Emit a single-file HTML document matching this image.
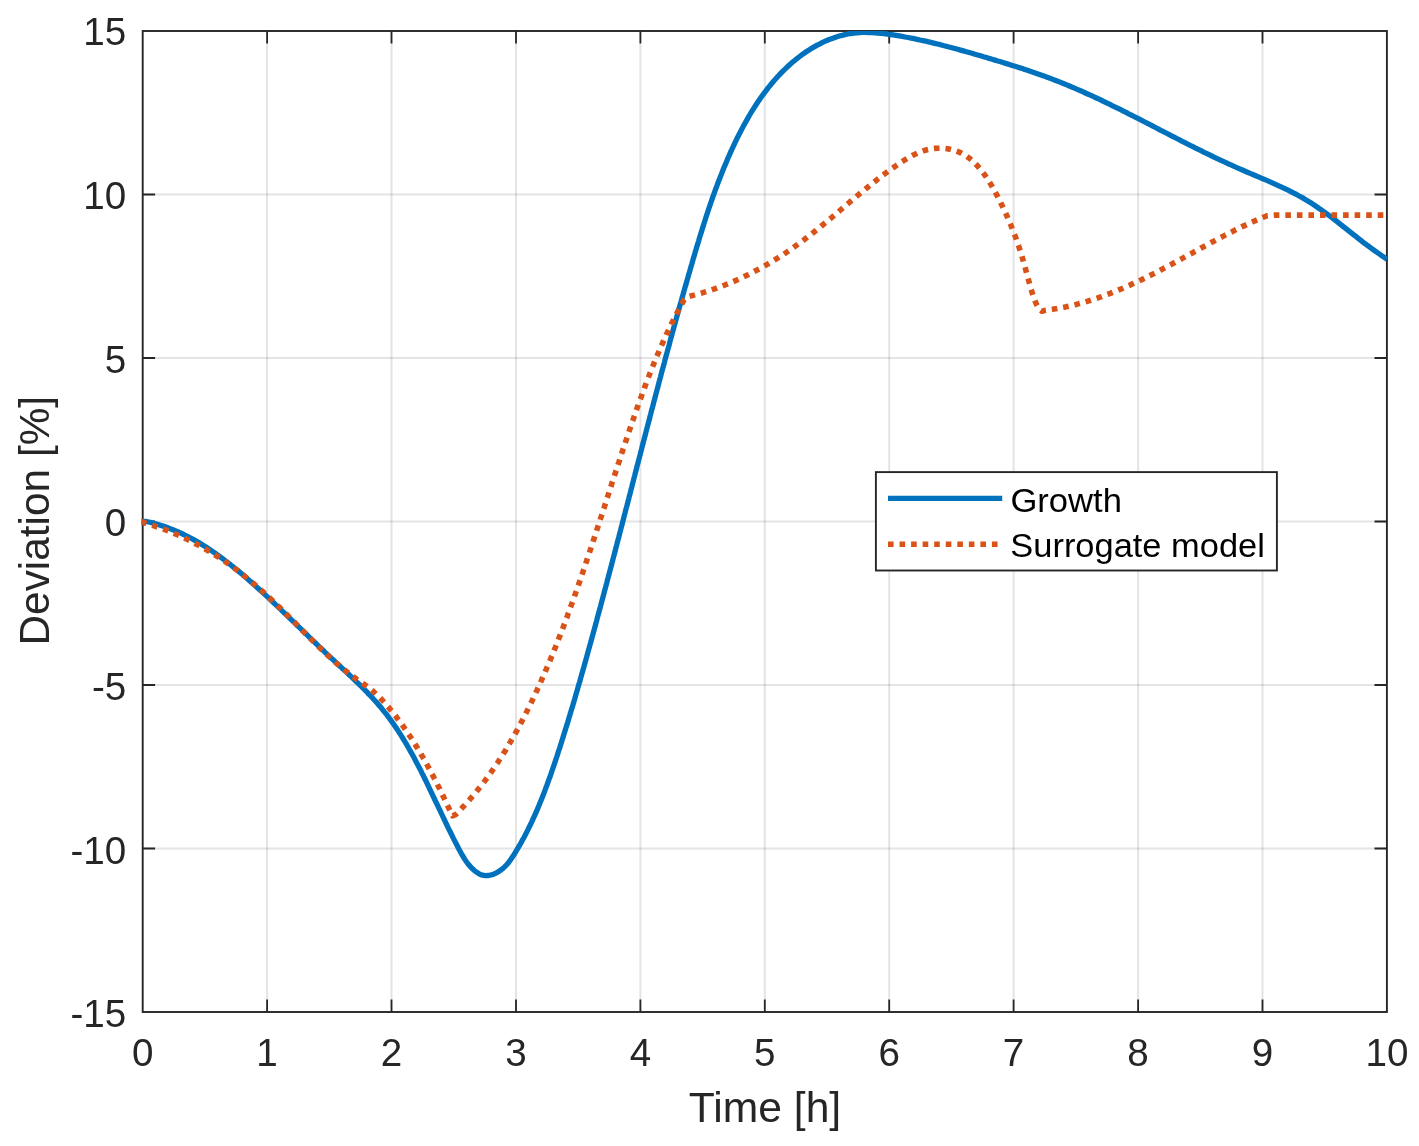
<!DOCTYPE html>
<html lang="en">
<head>
<meta charset="utf-8">
<title>Deviation vs Time</title>
<style>
html,body{margin:0;padding:0;background:#ffffff;}
body{width:1419px;height:1146px;overflow:hidden;}
svg{display:block;}
</style>
</head>
<body>
<svg width="1419" height="1146" viewBox="0 0 1419 1146">
<rect x="0" y="0" width="1419" height="1146" fill="#ffffff"/>
<g stroke="#262626" stroke-opacity="0.125" stroke-width="2" fill="none">
<path d="M267.1,31.0 V1012.0"/>
<path d="M391.5,31.0 V1012.0"/>
<path d="M516.0,31.0 V1012.0"/>
<path d="M640.4,31.0 V1012.0"/>
<path d="M764.8,31.0 V1012.0"/>
<path d="M889.2,31.0 V1012.0"/>
<path d="M1013.6,31.0 V1012.0"/>
<path d="M1138.1,31.0 V1012.0"/>
<path d="M1262.5,31.0 V1012.0"/>
<path d="M142.7,848.5 H1386.9"/>
<path d="M142.7,685.0 H1386.9"/>
<path d="M142.7,521.5 H1386.9"/>
<path d="M142.7,358.0 H1386.9"/>
<path d="M142.7,194.5 H1386.9"/>
</g>
<path d="M267.1,1012.0 v-12.4 M267.1,31.0 v12.4 M391.5,1012.0 v-12.4 M391.5,31.0 v12.4 M516.0,1012.0 v-12.4 M516.0,31.0 v12.4 M640.4,1012.0 v-12.4 M640.4,31.0 v12.4 M764.8,1012.0 v-12.4 M764.8,31.0 v12.4 M889.2,1012.0 v-12.4 M889.2,31.0 v12.4 M1013.6,1012.0 v-12.4 M1013.6,31.0 v12.4 M1138.1,1012.0 v-12.4 M1138.1,31.0 v12.4 M1262.5,1012.0 v-12.4 M1262.5,31.0 v12.4 M142.7,848.5 h12.4 M1386.9,848.5 h-12.4 M142.7,685.0 h12.4 M1386.9,685.0 h-12.4 M142.7,521.5 h12.4 M1386.9,521.5 h-12.4 M142.7,358.0 h12.4 M1386.9,358.0 h-12.4 M142.7,194.5 h12.4 M1386.9,194.5 h-12.4" stroke="#262626" stroke-width="1.8" fill="none"/>
<rect x="142.7" y="31.0" width="1244.2" height="981.0" fill="none" stroke="#262626" stroke-width="1.9"/>
<clipPath id="c"><rect x="139.7" y="31.0" width="1248.2" height="981.0"/></clipPath>
<g clip-path="url(#c)" fill="none" stroke-linejoin="round">
<path d="M142.7,521.4 L145.7,521.4 L148.7,522.0 L151.6,522.7 L154.6,523.5 L157.5,524.3 L160.3,525.2 L163.2,526.1 L166.0,527.1 L168.8,528.1 L171.6,529.2 L174.4,530.3 L177.1,531.5 L179.9,532.7 L182.6,534.0 L185.3,535.3 L187.9,536.6 L190.6,538.0 L193.2,539.4 L195.8,540.9 L198.4,542.4 L201.0,543.9 L203.5,545.5 L206.0,547.1 L208.6,548.8 L211.1,550.4 L213.5,552.1 L216.0,553.8 L218.5,555.6 L220.9,557.4 L223.3,559.2 L225.7,561.0 L228.1,562.9 L230.5,564.7 L232.8,566.6 L235.2,568.5 L237.5,570.4 L239.9,572.4 L242.2,574.3 L244.5,576.3 L246.8,578.3 L249.0,580.3 L251.3,582.3 L253.5,584.3 L255.8,586.3 L258.0,588.3 L260.2,590.3 L262.5,592.3 L264.7,594.4 L266.9,596.4 L269.1,598.4 L271.2,600.5 L273.4,602.5 L275.6,604.6 L277.8,606.6 L279.9,608.7 L282.1,610.8 L284.2,612.8 L286.4,614.9 L288.5,617.0 L290.7,619.1 L292.8,621.1 L295.0,623.2 L297.1,625.3 L299.3,627.4 L301.4,629.4 L303.5,631.5 L305.7,633.6 L307.8,635.7 L310.0,637.8 L312.1,639.8 L314.3,641.9 L316.5,644.0 L318.6,646.1 L320.8,648.1 L323.0,650.2 L325.1,652.3 L327.3,654.4 L329.5,656.4 L331.7,658.5 L333.9,660.5 L336.1,662.6 L338.4,664.7 L340.6,666.7 L342.8,668.8 L345.0,670.9 L347.2,672.9 L349.4,675.0 L351.7,677.1 L353.8,679.2 L356.0,681.3 L358.2,683.4 L360.4,685.5 L362.5,687.6 L364.6,689.7 L366.8,691.9 L368.8,694.1 L370.9,696.2 L373.0,698.5 L375.0,700.7 L377.0,702.9 L378.9,705.2 L380.9,707.4 L382.8,709.8 L384.6,712.1 L386.5,714.4 L388.3,716.8 L390.0,719.2 L391.8,721.6 L393.5,724.0 L395.2,726.5 L396.9,728.9 L398.5,731.4 L400.1,733.9 L401.7,736.4 L403.3,739.0 L404.8,741.5 L406.4,744.1 L407.9,746.7 L409.3,749.3 L410.8,751.9 L412.3,754.5 L413.7,757.1 L415.1,759.8 L416.5,762.4 L417.9,765.1 L419.3,767.7 L420.7,770.4 L422.0,773.1 L423.4,775.8 L424.7,778.5 L426.0,781.2 L427.3,783.9 L428.6,786.6 L429.9,789.4 L431.2,792.1 L432.5,794.8 L433.8,797.5 L435.1,800.3 L436.4,803.0 L437.7,805.7 L439.0,808.5 L440.3,811.2 L441.6,814.0 L442.9,816.7 L444.2,819.4 L445.5,822.2 L446.8,824.9 L448.1,827.6 L449.4,830.3 L450.8,833.0 L452.1,835.7 L453.4,838.4 L454.8,841.1 L456.2,843.8 L457.6,846.5 L459.0,849.2 L460.4,851.8 L461.8,854.4 L463.4,857.0 L465.0,859.6 L466.6,862.0 L468.4,864.4 L470.4,866.6 L472.5,868.8 L474.7,870.8 L477.2,872.6 L479.8,874.2 L482.5,875.2 L485.4,875.7 L488.4,875.5 L491.3,874.9 L494.2,873.9 L496.9,872.6 L499.5,871.0 L502.0,869.2 L504.3,867.1 L506.4,865.0 L508.4,862.7 L510.2,860.3 L511.9,857.8 L513.6,855.3 L515.1,852.8 L516.7,850.2 L518.2,847.7 L519.7,845.1 L521.2,842.5 L522.6,839.8 L524.1,837.2 L525.5,834.6 L526.8,831.9 L528.2,829.2 L529.5,826.5 L530.8,823.8 L532.1,821.1 L533.3,818.4 L534.6,815.7 L535.8,812.9 L537.0,810.2 L538.2,807.4 L539.3,804.6 L540.5,801.8 L541.6,799.1 L542.7,796.3 L543.8,793.5 L544.9,790.6 L545.9,787.8 L547.0,785.0 L548.0,782.2 L549.0,779.3 L550.1,776.5 L551.1,773.6 L552.0,770.8 L553.0,767.9 L554.0,765.1 L555.0,762.2 L555.9,759.4 L556.9,756.5 L557.8,753.6 L558.7,750.8 L559.7,747.9 L560.6,745.0 L561.5,742.1 L562.4,739.3 L563.3,736.4 L564.2,733.5 L565.1,730.6 L566.0,727.8 L566.9,724.9 L567.8,722.0 L568.6,719.1 L569.5,716.3 L570.4,713.4 L571.2,710.5 L572.1,707.6 L573.0,704.7 L573.8,701.9 L574.7,699.0 L575.5,696.1 L576.3,693.2 L577.2,690.3 L578.0,687.4 L578.8,684.6 L579.7,681.7 L580.5,678.8 L581.3,675.9 L582.1,673.0 L583.0,670.1 L583.8,667.2 L584.6,664.3 L585.4,661.5 L586.2,658.6 L587.0,655.7 L587.8,652.8 L588.6,649.9 L589.4,647.0 L590.2,644.1 L591.0,641.2 L591.8,638.3 L592.6,635.4 L593.4,632.5 L594.2,629.6 L595.0,626.7 L595.8,623.8 L596.6,620.9 L597.3,618.0 L598.1,615.1 L598.9,612.2 L599.7,609.3 L600.5,606.4 L601.2,603.5 L602.0,600.6 L602.8,597.7 L603.6,594.8 L604.3,591.9 L605.1,589.0 L605.9,586.1 L606.7,583.2 L607.4,580.3 L608.2,577.4 L609.0,574.5 L609.7,571.6 L610.5,568.7 L611.3,565.8 L612.0,562.9 L612.8,560.0 L613.5,557.1 L614.3,554.2 L615.1,551.3 L615.8,548.3 L616.6,545.4 L617.3,542.5 L618.1,539.6 L618.9,536.7 L619.6,533.8 L620.4,530.9 L621.1,528.0 L621.9,525.1 L622.6,522.2 L623.4,519.3 L624.1,516.3 L624.9,513.4 L625.6,510.5 L626.4,507.6 L627.2,504.7 L627.9,501.8 L628.7,498.9 L629.4,496.0 L630.2,493.1 L630.9,490.1 L631.7,487.2 L632.4,484.3 L633.2,481.4 L633.9,478.5 L634.7,475.6 L635.4,472.7 L636.2,469.8 L636.9,466.8 L637.7,463.9 L638.5,461.0 L639.2,458.1 L640.0,455.2 L640.7,452.3 L641.5,449.4 L642.2,446.5 L643.0,443.5 L643.7,440.6 L644.5,437.7 L645.3,434.8 L646.0,431.9 L646.8,429.0 L647.5,426.1 L648.3,423.2 L649.1,420.3 L649.8,417.3 L650.6,414.4 L651.3,411.5 L652.1,408.6 L652.9,405.7 L653.6,402.8 L654.4,399.9 L655.2,397.0 L655.9,394.1 L656.7,391.1 L657.5,388.2 L658.3,385.3 L659.0,382.4 L659.8,379.5 L660.6,376.6 L661.3,373.7 L662.1,370.8 L662.9,367.9 L663.7,365.0 L664.5,362.1 L665.2,359.2 L666.0,356.3 L666.8,353.4 L667.6,350.5 L668.4,347.6 L669.2,344.7 L669.9,341.8 L670.7,338.9 L671.5,336.0 L672.3,333.1 L673.1,330.2 L673.9,327.3 L674.7,324.4 L675.5,321.5 L676.3,318.6 L677.1,315.7 L677.9,312.8 L678.7,309.9 L679.5,307.0 L680.3,304.1 L681.2,301.2 L682.0,298.3 L682.8,295.4 L683.6,292.5 L684.4,289.6 L685.2,286.8 L686.1,283.9 L686.9,281.0 L687.7,278.1 L688.5,275.2 L689.4,272.3 L690.2,269.5 L691.0,266.6 L691.9,263.7 L692.7,260.8 L693.5,257.9 L694.4,255.1 L695.2,252.2 L696.1,249.3 L696.9,246.4 L697.8,243.6 L698.7,240.7 L699.5,237.8 L700.4,235.0 L701.3,232.1 L702.2,229.2 L703.1,226.4 L704.0,223.5 L704.9,220.7 L705.8,217.8 L706.7,215.0 L707.7,212.1 L708.6,209.3 L709.6,206.4 L710.5,203.6 L711.5,200.8 L712.5,197.9 L713.5,195.1 L714.5,192.3 L715.5,189.5 L716.6,186.7 L717.6,183.8 L718.7,181.0 L719.8,178.2 L720.9,175.4 L722.0,172.6 L723.1,169.8 L724.2,167.0 L725.4,164.3 L726.6,161.5 L727.7,158.7 L729.0,155.9 L730.2,153.2 L731.4,150.4 L732.7,147.7 L734.0,144.9 L735.3,142.2 L736.6,139.4 L737.9,136.7 L739.3,134.0 L740.7,131.3 L742.1,128.6 L743.5,125.9 L745.0,123.2 L746.5,120.6 L748.0,117.9 L749.5,115.3 L751.0,112.7 L752.6,110.1 L754.2,107.6 L755.9,105.0 L757.5,102.5 L759.2,100.0 L760.9,97.5 L762.7,95.1 L764.5,92.7 L766.3,90.3 L768.1,87.9 L770.0,85.6 L771.9,83.3 L773.8,81.0 L775.8,78.8 L777.8,76.5 L779.8,74.4 L781.9,72.2 L784.0,70.1 L786.1,68.1 L788.3,66.0 L790.5,64.0 L792.7,62.1 L795.0,60.2 L797.3,58.3 L799.7,56.5 L802.1,54.7 L804.5,53.0 L807.0,51.3 L809.5,49.7 L812.0,48.1 L814.6,46.6 L817.2,45.1 L819.9,43.8 L822.6,42.4 L825.3,41.2 L828.0,40.0 L830.8,38.9 L833.6,37.9 L836.4,36.9 L839.2,36.0 L842.1,35.3 L845.0,34.6 L847.9,34.0 L850.8,33.5 L853.8,33.1 L856.8,32.8 L859.8,32.6 L862.8,32.4 L865.8,32.4 L868.8,32.5 L871.8,32.6 L874.9,32.8 L877.9,33.0 L881.0,33.3 L884.0,33.6 L887.1,34.0 L890.1,34.5 L893.1,34.9 L896.1,35.4 L899.2,35.9 L902.2,36.4 L905.1,37.0 L908.1,37.5 L911.1,38.1 L914.1,38.7 L917.0,39.3 L920.0,40.0 L922.9,40.6 L925.8,41.2 L928.7,41.9 L931.7,42.6 L934.6,43.3 L937.5,44.0 L940.4,44.7 L943.3,45.5 L946.1,46.2 L949.0,47.0 L951.9,47.7 L954.8,48.5 L957.7,49.3 L960.5,50.1 L963.4,50.9 L966.3,51.7 L969.1,52.5 L972.0,53.3 L974.9,54.2 L977.7,55.0 L980.6,55.8 L983.5,56.7 L986.4,57.5 L989.2,58.4 L992.1,59.2 L995.0,60.1 L997.9,61.0 L1000.7,61.8 L1003.6,62.7 L1006.5,63.6 L1009.4,64.5 L1012.2,65.4 L1015.1,66.3 L1018.0,67.2 L1020.9,68.1 L1023.7,69.1 L1026.6,70.0 L1029.5,71.0 L1032.3,71.9 L1035.2,72.9 L1038.0,73.9 L1040.9,74.9 L1043.7,75.9 L1046.5,77.0 L1049.4,78.0 L1052.2,79.1 L1055.0,80.2 L1057.8,81.3 L1060.6,82.4 L1063.4,83.5 L1066.1,84.6 L1068.9,85.8 L1071.7,87.0 L1074.5,88.1 L1077.2,89.3 L1080.0,90.5 L1082.7,91.7 L1085.4,93.0 L1088.2,94.2 L1090.9,95.4 L1093.6,96.7 L1096.4,98.0 L1099.1,99.2 L1101.8,100.5 L1104.5,101.8 L1107.2,103.1 L1109.9,104.4 L1112.6,105.8 L1115.3,107.1 L1118.0,108.4 L1120.7,109.7 L1123.4,111.1 L1126.1,112.4 L1128.7,113.8 L1131.4,115.1 L1134.1,116.5 L1136.8,117.9 L1139.4,119.2 L1142.1,120.6 L1144.8,122.0 L1147.5,123.4 L1150.1,124.7 L1152.8,126.1 L1155.5,127.5 L1158.1,128.9 L1160.8,130.3 L1163.5,131.6 L1166.1,133.0 L1168.8,134.4 L1171.5,135.8 L1174.2,137.2 L1176.8,138.5 L1179.5,139.9 L1182.2,141.3 L1184.9,142.6 L1187.5,144.0 L1190.2,145.4 L1192.9,146.7 L1195.6,148.1 L1198.3,149.4 L1201.0,150.7 L1203.7,152.1 L1206.4,153.4 L1209.1,154.7 L1211.8,156.0 L1214.5,157.3 L1217.2,158.6 L1219.9,159.9 L1222.7,161.2 L1225.4,162.4 L1228.1,163.7 L1230.9,164.9 L1233.6,166.2 L1236.3,167.4 L1239.1,168.6 L1241.9,169.8 L1244.6,171.0 L1247.4,172.2 L1250.2,173.4 L1252.9,174.5 L1255.7,175.7 L1258.5,176.9 L1261.2,178.1 L1264.0,179.3 L1266.8,180.4 L1269.5,181.6 L1272.3,182.9 L1275.0,184.1 L1277.7,185.3 L1280.5,186.6 L1283.2,187.8 L1285.9,189.1 L1288.6,190.4 L1291.3,191.8 L1293.9,193.2 L1296.6,194.5 L1299.2,196.0 L1301.8,197.4 L1304.4,198.9 L1307.0,200.5 L1309.5,202.0 L1312.0,203.6 L1314.5,205.3 L1317.0,207.0 L1319.5,208.7 L1322.0,210.4 L1324.4,212.1 L1326.8,213.9 L1329.3,215.7 L1331.7,217.5 L1334.1,219.4 L1336.5,221.2 L1338.9,223.1 L1341.2,224.9 L1343.6,226.8 L1346.0,228.7 L1348.4,230.6 L1350.7,232.4 L1353.1,234.3 L1355.5,236.2 L1357.9,238.1 L1360.2,239.9 L1362.6,241.8 L1365.0,243.6 L1367.4,245.4 L1369.8,247.2 L1372.2,249.0 L1374.7,250.7 L1377.1,252.4 L1379.6,254.1 L1382.0,255.8 L1384.5,257.5 L1386.9,259.3" stroke="#0072bd" stroke-width="5.3"/>
<path d="M141.2,521.8 L142.7,521.9 L145.4,523.1 L148.3,523.9 L151.2,524.9 L154.1,525.8 L156.9,526.8 L159.8,527.8 L162.6,528.8 L165.4,529.9 L168.3,531.0 L171.1,532.1 L173.8,533.3 L176.6,534.5 L179.4,535.7 L182.1,537.0 L184.8,538.3 L187.5,539.6 L190.3,540.9 L192.9,542.3 L195.6,543.7 L198.3,545.1 L200.9,546.5 L203.5,548.0 L206.1,549.5 L208.7,551.1 L211.3,552.6 L213.9,554.2 L216.4,555.8 L219.0,557.4 L221.5,559.1 L224.0,560.8 L226.5,562.5 L228.9,564.2 L231.4,566.0 L233.8,567.8 L236.2,569.6 L238.6,571.4 L241.0,573.3 L243.4,575.2 L245.8,577.1 L248.1,579.0 L250.4,580.9 L252.7,582.8 L255.0,584.8 L257.3,586.8 L259.6,588.8 L261.9,590.8 L264.1,592.8 L266.3,594.9 L268.6,596.9 L270.8,599.0 L273.0,601.1 L275.2,603.2 L277.3,605.3 L279.5,607.4 L281.7,609.5 L283.8,611.6 L285.9,613.8 L288.1,615.9 L290.2,618.0 L292.3,620.2 L294.5,622.3 L296.6,624.5 L298.7,626.6 L300.8,628.8 L302.9,630.9 L305.0,633.1 L307.2,635.2 L309.3,637.4 L311.4,639.5 L313.5,641.6 L315.7,643.8 L317.8,645.9 L320.0,648.0 L322.2,650.1 L324.4,652.1 L326.6,654.2 L328.8,656.3 L331.0,658.3 L333.2,660.3 L335.5,662.3 L337.8,664.3 L340.1,666.3 L342.4,668.2 L344.7,670.1 L347.1,672.0 L349.4,673.9 L351.8,675.7 L354.3,677.4 L356.7,679.2 L359.2,680.9 L361.7,682.6 L364.1,684.4 L366.5,686.1 L368.9,687.9 L371.3,689.8 L373.6,691.7 L375.8,693.7 L378.0,695.8 L380.1,697.9 L382.2,700.1 L384.2,702.3 L386.2,704.5 L388.2,706.8 L390.1,709.2 L392.0,711.5 L393.9,713.9 L395.8,716.3 L397.6,718.7 L399.4,721.1 L401.2,723.6 L403.0,726.0 L404.7,728.5 L406.4,731.0 L408.1,733.5 L409.8,736.0 L411.5,738.5 L413.1,741.1 L414.7,743.6 L416.3,746.2 L417.9,748.8 L419.4,751.4 L420.9,754.0 L422.5,756.6 L424.0,759.2 L425.4,761.8 L426.9,764.5 L428.4,767.1 L429.8,769.8 L431.2,772.4 L432.6,775.1 L434.0,777.8 L435.4,780.4 L436.8,783.1 L438.1,785.8 L439.5,788.5 L440.8,791.3 L442.1,794.0 L443.4,796.7 L444.7,799.4 L446.0,802.1 L447.3,804.9 L448.6,807.6 L449.9,810.4 L451.1,813.1 L452.5,815.8 L455.5,814.7 L457.7,812.6 L459.8,810.4 L461.9,808.2 L464.0,805.9 L466.0,803.7 L468.0,801.4 L470.0,799.2 L472.0,796.9 L474.0,794.6 L475.9,792.2 L477.8,789.9 L479.7,787.5 L481.5,785.2 L483.4,782.8 L485.2,780.4 L487.0,778.0 L488.7,775.5 L490.5,773.1 L492.2,770.6 L493.9,768.1 L495.6,765.7 L497.3,763.2 L498.9,760.6 L500.6,758.1 L502.2,755.6 L503.8,753.0 L505.4,750.5 L506.9,747.9 L508.5,745.3 L510.0,742.7 L511.5,740.1 L513.0,737.5 L514.5,734.9 L515.9,732.3 L517.4,729.6 L518.8,727.0 L520.2,724.3 L521.6,721.7 L523.0,719.0 L524.4,716.3 L525.8,713.6 L527.1,710.9 L528.4,708.2 L529.8,705.5 L531.1,702.8 L532.4,700.1 L533.7,697.3 L535.0,694.6 L536.2,691.9 L537.5,689.1 L538.7,686.4 L540.0,683.6 L541.2,680.9 L542.4,678.1 L543.6,675.4 L544.8,672.6 L546.0,669.8 L547.2,667.0 L548.4,664.3 L549.6,661.5 L550.7,658.7 L551.9,655.9 L553.0,653.1 L554.1,650.3 L555.3,647.5 L556.4,644.7 L557.5,641.9 L558.6,639.1 L559.7,636.2 L560.8,633.4 L561.9,630.6 L563.0,627.8 L564.0,625.0 L565.1,622.1 L566.1,619.3 L567.2,616.5 L568.2,613.6 L569.3,610.8 L570.3,607.9 L571.3,605.1 L572.4,602.2 L573.4,599.4 L574.4,596.6 L575.4,593.7 L576.4,590.8 L577.4,588.0 L578.4,585.1 L579.4,582.3 L580.4,579.4 L581.3,576.6 L582.3,573.7 L583.3,570.8 L584.3,568.0 L585.2,565.1 L586.2,562.2 L587.1,559.4 L588.1,556.5 L589.1,553.6 L590.0,550.8 L591.0,547.9 L591.9,545.0 L592.9,542.2 L593.8,539.3 L594.7,536.4 L595.7,533.6 L596.6,530.7 L597.5,527.8 L598.5,524.9 L599.4,522.1 L600.3,519.2 L601.3,516.3 L602.2,513.5 L603.1,510.6 L604.1,507.7 L605.0,504.8 L605.9,502.0 L606.8,499.1 L607.8,496.2 L608.7,493.4 L609.6,490.5 L610.6,487.6 L611.5,484.7 L612.4,481.9 L613.4,479.0 L614.3,476.1 L615.2,473.3 L616.2,470.4 L617.1,467.5 L618.0,464.7 L619.0,461.8 L619.9,458.9 L620.8,456.1 L621.8,453.2 L622.7,450.3 L623.7,447.5 L624.6,444.6 L625.6,441.8 L626.6,438.9 L627.5,436.0 L628.5,433.2 L629.4,430.3 L630.4,427.5 L631.4,424.6 L632.4,421.8 L633.4,418.9 L634.3,416.1 L635.3,413.2 L636.3,410.4 L637.3,407.5 L638.3,404.7 L639.3,401.8 L640.4,399.0 L641.4,396.2 L642.4,393.3 L643.5,390.5 L644.5,387.7 L645.6,384.8 L646.6,382.0 L647.7,379.2 L648.8,376.4 L649.9,373.6 L651.0,370.8 L652.1,368.0 L653.2,365.2 L654.3,362.4 L655.5,359.6 L656.6,356.8 L657.8,354.0 L659.0,351.3 L660.2,348.5 L661.4,345.7 L662.6,343.0 L663.8,340.2 L665.1,337.5 L666.3,334.7 L667.6,332.0 L668.9,329.3 L670.2,326.6 L671.5,323.8 L672.9,321.1 L674.2,318.4 L675.6,315.7 L677.0,313.1 L678.4,310.4 L679.8,307.7 L681.2,305.0 L682.7,302.4 L684.2,299.7 L686.3,297.5 L689.1,296.4 L692.1,295.6 L695.0,294.9 L697.9,294.1 L700.8,293.3 L703.7,292.4 L706.6,291.5 L709.5,290.6 L712.3,289.6 L715.2,288.7 L718.0,287.6 L720.9,286.6 L723.7,285.5 L726.5,284.4 L729.3,283.3 L732.1,282.1 L734.9,280.9 L737.6,279.7 L740.4,278.4 L743.1,277.1 L745.8,275.8 L748.6,274.5 L751.3,273.1 L753.9,271.7 L756.6,270.3 L759.3,268.9 L761.9,267.4 L764.6,265.9 L767.2,264.4 L769.8,262.9 L772.4,261.3 L775.0,259.7 L777.6,258.1 L780.1,256.5 L782.7,254.9 L785.2,253.2 L787.7,251.5 L790.2,249.8 L792.7,248.1 L795.1,246.3 L797.6,244.5 L800.0,242.8 L802.5,241.0 L804.9,239.1 L807.3,237.3 L809.7,235.5 L812.0,233.6 L814.4,231.7 L816.7,229.8 L819.1,227.9 L821.4,226.0 L823.7,224.1 L826.1,222.2 L828.4,220.2 L830.7,218.3 L833.0,216.4 L835.3,214.4 L837.6,212.5 L839.9,210.5 L842.2,208.5 L844.5,206.6 L846.8,204.6 L849.1,202.7 L851.4,200.7 L853.7,198.8 L856.0,196.8 L858.3,194.9 L860.7,192.9 L863.0,191.0 L865.3,189.1 L867.7,187.2 L870.0,185.3 L872.4,183.4 L874.8,181.5 L877.2,179.6 L879.6,177.8 L882.0,175.9 L884.4,174.1 L886.8,172.3 L889.3,170.5 L891.8,168.7 L894.2,167.0 L896.8,165.2 L899.3,163.5 L901.8,161.8 L904.4,160.2 L907.0,158.6 L909.6,157.1 L912.3,155.6 L915.0,154.3 L917.7,153.0 L920.5,151.9 L923.3,150.9 L926.1,150.0 L929.0,149.3 L932.0,148.8 L935.0,148.4 L938.0,148.3 L941.0,148.2 L944.0,148.4 L947.0,148.7 L950.0,149.3 L952.9,150.0 L955.8,150.8 L958.6,151.9 L961.3,153.1 L964.0,154.6 L966.5,156.1 L969.0,157.9 L971.3,159.8 L973.6,161.8 L975.7,164.0 L977.8,166.2 L979.8,168.6 L981.8,171.0 L983.6,173.4 L985.4,175.9 L987.1,178.5 L988.8,181.0 L990.4,183.6 L991.9,186.2 L993.4,188.8 L994.9,191.4 L996.3,194.1 L997.7,196.7 L999.0,199.4 L1000.4,202.1 L1001.7,204.8 L1003.0,207.5 L1004.3,210.2 L1005.6,213.0 L1006.8,215.7 L1008.0,218.5 L1009.2,221.3 L1010.4,224.0 L1011.5,226.8 L1012.6,229.6 L1013.7,232.5 L1014.8,235.3 L1015.9,238.1 L1016.9,241.0 L1017.9,243.8 L1018.9,246.7 L1019.8,249.6 L1020.7,252.5 L1021.7,255.4 L1022.5,258.3 L1023.4,261.2 L1024.2,264.2 L1025.0,267.1 L1025.8,270.0 L1026.6,273.0 L1027.4,275.9 L1028.2,278.8 L1029.0,281.7 L1029.8,284.6 L1030.6,287.5 L1031.5,290.4 L1032.3,293.3 L1033.3,296.1 L1034.3,298.9 L1035.3,301.6 L1036.5,304.3 L1037.9,306.9 L1039.4,309.3 L1041.9,311.2 L1044.7,310.5 L1047.8,310.1 L1050.9,309.6 L1054.0,309.1 L1057.1,308.6 L1060.1,308.0 L1063.2,307.4 L1066.2,306.8 L1069.2,306.1 L1072.2,305.4 L1075.2,304.7 L1078.2,303.9 L1081.1,303.1 L1084.1,302.2 L1087.0,301.4 L1089.9,300.5 L1092.9,299.5 L1095.8,298.6 L1098.7,297.6 L1101.6,296.6 L1104.4,295.5 L1107.3,294.5 L1110.2,293.4 L1113.0,292.2 L1115.8,291.1 L1118.7,289.9 L1121.5,288.8 L1124.3,287.5 L1127.1,286.3 L1129.9,285.1 L1132.7,283.8 L1135.5,282.5 L1138.3,281.2 L1141.0,279.9 L1143.8,278.6 L1146.6,277.2 L1149.3,275.8 L1152.0,274.5 L1154.8,273.1 L1157.5,271.7 L1160.3,270.2 L1163.0,268.8 L1165.7,267.4 L1168.4,265.9 L1171.1,264.5 L1173.8,263.0 L1176.5,261.5 L1179.2,260.1 L1181.9,258.6 L1184.6,257.1 L1187.3,255.6 L1190.0,254.1 L1192.7,252.7 L1195.4,251.2 L1198.1,249.7 L1200.8,248.2 L1203.5,246.7 L1206.2,245.3 L1208.9,243.8 L1211.6,242.3 L1214.3,240.9 L1217.0,239.4 L1219.7,238.0 L1222.5,236.6 L1225.2,235.1 L1227.9,233.7 L1230.6,232.4 L1233.4,231.0 L1236.1,229.6 L1238.9,228.3 L1241.6,226.9 L1244.4,225.6 L1247.2,224.3 L1249.9,223.1 L1252.7,221.8 L1255.5,220.6 L1258.3,219.4 L1261.1,218.2 L1263.9,217.0 L1266.8,215.9 L1270.0,215.6 L1275.0,215.1 L1386.9,215.1" stroke="#d95319" stroke-width="5.6" stroke-dasharray="5.6 5.95"/>
</g>
<g font-family="'Liberation Sans', Arial, Helvetica, sans-serif" fill="#262626">
<g font-size="38.6" text-anchor="middle">
<text x="142.7" y="1066.2">0</text>
<text x="267.1" y="1066.2">1</text>
<text x="391.5" y="1066.2">2</text>
<text x="516.0" y="1066.2">3</text>
<text x="640.4" y="1066.2">4</text>
<text x="764.8" y="1066.2">5</text>
<text x="889.2" y="1066.2">6</text>
<text x="1013.6" y="1066.2">7</text>
<text x="1138.1" y="1066.2">8</text>
<text x="1262.5" y="1066.2">9</text>
<text x="1386.9" y="1066.2">10</text>
</g>
<g font-size="38.6" text-anchor="end">
<text x="126.2" y="45.3">15</text>
<text x="126.2" y="208.5">10</text>
<text x="126.2" y="372.7">5</text>
<text x="126.2" y="536.4">0</text>
<text x="126.2" y="700.1">-5</text>
<text x="126.2" y="863.7">-10</text>
<text x="126.2" y="1027.3">-15</text>
</g>
<text x="765.0" y="1122.2" font-size="41.8" text-anchor="middle" textLength="152.4" lengthAdjust="spacingAndGlyphs">Time [h]</text>
<text transform="translate(48.9,520.7) rotate(-90)" font-size="41.8" text-anchor="middle" textLength="249.7" lengthAdjust="spacingAndGlyphs">Deviation [%]</text>
</g>
<rect x="875.9" y="472.1" width="401" height="98.4" fill="#ffffff" stroke="#262626" stroke-width="1.9"/>
<path d="M888,498.3 H1002.2" stroke="#0072bd" stroke-width="5.3" fill="none"/>
<path d="M888,544.2 H1002.2" stroke="#d95319" stroke-width="5.6" stroke-dasharray="5.6 5.95" fill="none"/>
<g font-family="'Liberation Sans', Arial, Helvetica, sans-serif" fill="#000000" font-size="33.8">
<text x="1010.4" y="512.2" textLength="111.5" lengthAdjust="spacingAndGlyphs">Growth</text>
<text x="1010.3" y="557.1" textLength="254.6" lengthAdjust="spacingAndGlyphs">Surrogate model</text>
</g>
</svg>
</body>
</html>
